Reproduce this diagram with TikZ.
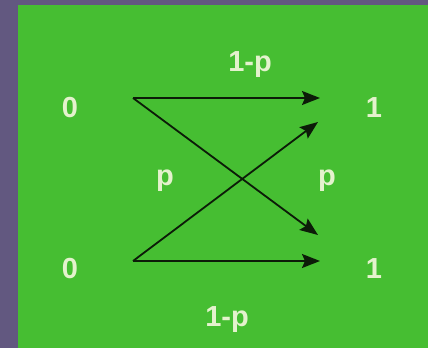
\documentclass[tikz,border=0pt]{standalone}
\usepackage{fontspec}
\setmainfont{Liberation Sans}
\usepackage{xcolor}
\usetikzlibrary{positioning,arrows.meta}
\definecolor{bgpurple}{RGB}{98,88,128}
\definecolor{chgreen}{RGB}{70,190,50}
\definecolor{chtext}{RGB}{228,242,205}
\definecolor{chline}{RGB}{12,28,8}

\begin{document}
\begin{tikzpicture}[
    x=1pt,y=-1pt,
    every node/.style={font=\fontsize{29}{34}\selectfont\bfseries,
                       text=chtext,inner sep=0pt,anchor=base},
    bit/.style={},
    prob/.style={},
    arrow/.style={-{Stealth[length=18pt,width=14pt,inset=3pt]},
                  line width=1.8pt,draw=chline},
]
    \useasboundingbox (0,0) rectangle (428,348);
    \fill[bgpurple] (0,0) rectangle (428,348);
    \fill[chgreen]  (18,5) rectangle (428,348);

    \node[bit]  (in0)  at (70,117)  {0};
    \node[bit]  (in1)  at (70,278)  {0};
    \node[bit]  (out0) at (374,117) {1};
    \node[bit]  (out1) at (374,278) {1};
    \node[prob] (ptop) at (250,71)  {1-p};
    \node[prob] (pbot) at (227,326) {1-p};
    \node[prob] (pl)   at (165,185) {p};
    \node[prob] (pr)   at (327,185) {p};

    \coordinate (s0)  at (133,98);
    \coordinate (s1)  at (133,261);
    \coordinate (t00) at (320,98);
    \coordinate (t01) at (318,235);
    \coordinate (t10) at (318,122);
    \coordinate (t11) at (320,261);

    \draw[arrow] (s0) -- (t00);
    \draw[arrow] (s0) -- (t01);
    \draw[arrow] (s1) -- (t10);
    \draw[arrow] (s1) -- (t11);
\end{tikzpicture}
\end{document}
